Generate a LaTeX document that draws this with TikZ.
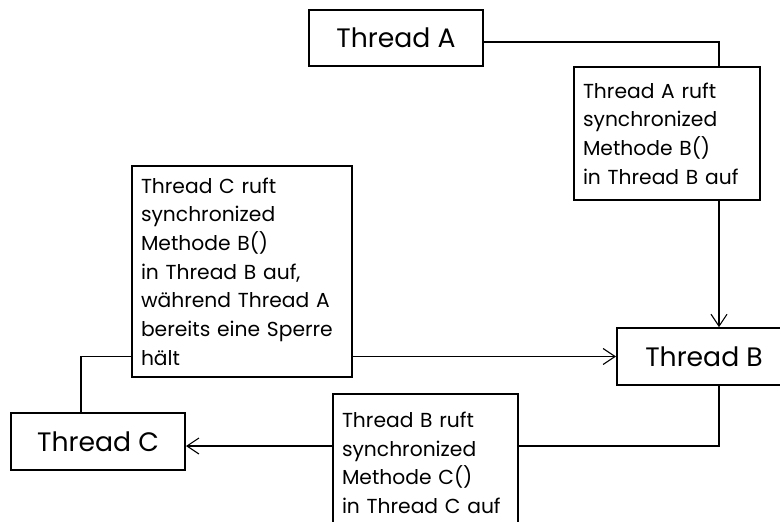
\documentclass[tikz,border=0pt]{standalone}
\usepackage{fontspec}
\setmainfont{Poppins}
\usepackage{tikz}
\usetikzlibrary{calc, arrows.meta}
\tikzset{
	threadbox/.style={draw=black, line width=1.5pt, fill=white, minimum width=130.5pt, minimum height=42.5pt, inner sep=0pt, font=\fontsize{20pt}{24pt}\selectfont}
}
\tikzset{
	callbox/.style={draw=black, line width=1.5pt, fill=white, anchor=north west, align=left, inner xsep=6.75pt, inner ysep=0pt, font=\fontsize{15.2pt}{21.5pt}\selectfont}
}

\begin{document}
\begin{tikzpicture}[x=0.75pt,y=-0.75pt]

\tikzset{
    callline/.style={line width=0.8pt, -{Straight Barb[length=9pt,width=12pt]}}
}

\useasboundingbox (0,0) rectangle (780,521);
\clip (0,0) rectangle (780,521);

\node[threadbox] (ta) at (396,38) {Thread A};
\node[threadbox] (tb) at (704,356.5) {Thread B};
\node[threadbox] (tc) at (98,441.5) {Thread C};

\draw[callline] ($(ta.east)+(0,4)$) -| ($(tb.north)+(15,0)$);
\draw[callline] ($(tc.north)+(-17,0)$) |- (tb.west);
\draw[callline] ($(tb.south)+(15,0)$) |- ($(tc.east)+(0,4.5)$);

\node[callbox, text width=126pt, minimum height=99.75pt] (atob) at (573,66) {Thread A ruft\\synchronized\\Methode B()\\in Thread B auf};
\node[callbox, text width=151.5pt, minimum height=158.25pt] (ctob) at (131,165) {Thread C ruft\\synchronized\\Methode B()\\in Thread B auf,\\während Thread A\\bereits eine Sperre\\hält};
\node[callbox, text width=125.25pt, minimum height=103.5pt] (btoc) at (332,393) {Thread B ruft\\synchronized\\Methode C()\\in Thread C auf};
\end{tikzpicture}
\end{document}
